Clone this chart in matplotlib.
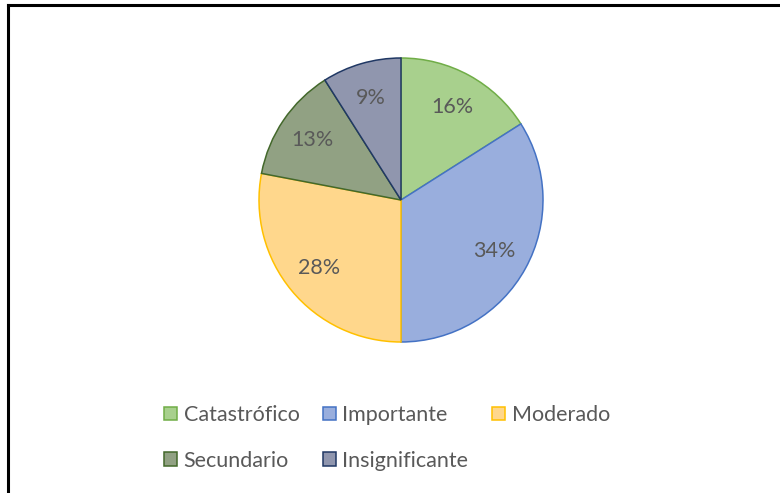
import matplotlib.pyplot as plt
from matplotlib.lines import Line2D
from matplotlib.patches import Patch

# data
categories = ['Catastrófico', 'Importante', 'Moderado', 'Secundario', 'Insignificante']
values = [16, 34, 28, 13, 9]

fills = ['#A8D08D', '#99AEDD', '#FFD78C', '#91A183', '#9096AE']
edges = ['#70AD47', '#4472C4', '#FFC000', '#43682B', '#203864']
txt = '#595959'

plt.rcParams['font.family'] = ['Lato', 'DejaVu Sans']

fig = plt.figure(figsize=(7.8, 4.93), dpi=100)

# pie centre ~ (401, 200) px, radius ~142 px
W, H = 780, 493
cx, cy, r = 401, 200, 142
ax = fig.add_axes([(cx - r) / W, 1 - (cy + r) / H, 2 * r / W, 2 * r / H])

wedges, texts, autotexts = ax.pie(
    values, colors=fills, startangle=90, counterclock=False,
    autopct=lambda p: f'{p:.0f}%', pctdistance=0.75,
    wedgeprops=dict(linewidth=1.1),
    textprops=dict(color=txt, fontsize=15.5))
for w, ec in zip(wedges, edges):
    w.set_edgecolor(ec)
ax.set_xlim(-1, 1)
ax.set_ylim(-1, 1)
ax.set_aspect('equal')

# legend, row-wise order for 3 columns
handles = [Patch(facecolor=f, edgecolor=e, linewidth=1.1) for f, e in zip(fills, edges)]
order = [0, 3, 1, 4, 2]
fig.legend([handles[i] for i in order], [categories[i] for i in order],
           loc='center', bbox_to_anchor=(387 / W, 1 - 438 / H), ncol=3,
           frameon=False, fontsize=15.5, labelcolor=txt,
           handlelength=0.6, handleheight=0.6, handletextpad=0.3,
           columnspacing=1.1, labelspacing=1.2)

# black frame at top and left
fig.add_artist(Line2D([8 / W, 1], [1 - 5 / H, 1 - 5 / H], color='black', lw=2.2))
fig.add_artist(Line2D([8 / W, 8 / W], [0, 1 - 5 / H], color='black', lw=2.2))

fig.savefig('out.png', dpi=100)
